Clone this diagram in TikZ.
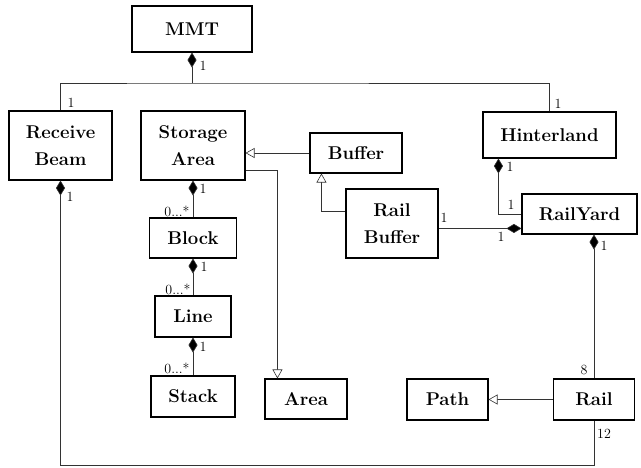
\documentclass[tikz,border=0pt]{standalone}
\usetikzlibrary{arrows.meta,calc}
\begin{document}
\begin{tikzpicture}[x=1pt,y=-1pt,
  cls/.style={draw,line width=1.1pt,rectangle,inner sep=0pt,align=center,
    font=\fontsize{18.5}{27.5}\selectfont\bfseries},
  conn/.style={line width=0.6pt,draw=black!80},
  comp/.style={conn,{Diamond[length=15pt,width=9pt,fill=black]}-},
  gen/.style={conn,-{Triangle[open,length=9pt,width=10pt,fill=white]}},
  lab/.style={font=\fontsize{14}{15}\selectfont,inner sep=0pt}]
\useasboundingbox (0,0) rectangle (641,468);
% classes
\node[cls,minimum width=120pt,minimum height=46pt] (MMT) at (192,29) {MMT};
\node[cls,minimum width=103pt,minimum height=69pt] (RB) at (60.5,145.5) {Receive\\Beam};
\node[cls,minimum width=104pt,minimum height=69pt] (SA) at (193,145.5) {Storage\\Area};
\node[cls,minimum width=92pt,minimum height=40pt] (Buf) at (356,153) {Buffer};
\node[cls,minimum width=133pt,minimum height=46pt] (Hin) at (549.5,135) {Hinterland};
\node[cls,minimum width=115pt,minimum height=40pt] (RY) at (579.5,214) {RailYard};
\node[cls,minimum width=92pt,minimum height=69pt] (RBuf) at (392,223.5) {Rail\\Buffer};
\node[cls,minimum width=87pt,minimum height=40pt] (Blk) at (193,238) {Block};
\node[cls,minimum width=76pt,minimum height=41pt] (Ln) at (193,316.5) {Line};
\node[cls,minimum width=84pt,minimum height=41pt] (Stk) at (193,396.5) {Stack};
\node[cls,minimum width=82pt,minimum height=40pt] (Area) at (306,399) {Area};
\node[cls,minimum width=81pt,minimum height=41pt] (Path) at (447.5,399.5) {Path};
\node[cls,minimum width=81pt,minimum height=41pt] (Rail) at (594,399.5) {Rail};
% helper coordinates
\coordinate (top) at (192,83);
\coordinate (hd) at ($(Hin.south west)+(16,0)$);
\coordinate (ryd) at (Rail.north |- RY.south);
\coordinate (saE) at ($(SA.south east)+(0,-10)$);
\coordinate (aN) at ($(Area.north west)+(13,0)$);
\coordinate (bufB) at ($(Buf.south west)+(12,0)$);
\coordinate (rbW) at ($(RBuf.north west)+(0,23)$);
\coordinate (rbE) at ($(RBuf.north east)+(0,40)$);
\coordinate (bot) at (594,465);
% connectors
\draw[comp] (MMT.south) -- (top);
\draw[conn] (RB.north) |- (top) -| (Hin.north);
\draw[gen] (Buf.west) -- (Buf.west -| SA.east);
\draw[gen] (saE) -| (aN);
\draw[gen] (rbW) -| (bufB);
\draw[comp] (rbE -| RY.west) -- (rbE);
\draw[comp] (hd) |- (RY.west);
\draw[comp] (ryd) -- (Rail.north);
\draw[gen] (Rail.west) -- (Path.east);
\draw[comp] (RB.south) |- (bot) -- (Rail.south);
\draw[comp] (SA.south) -- (Blk.north);
\draw[comp] (Blk.south) -- (Ln.north);
\draw[comp] (Ln.south) -- (Stk.north);
% multiplicities
\node[lab] (l1) at (203,66) {1};
\node[lab] (l2) at (71,103) {1};
\node[lab] (l3) at (558,104) {1};
\node[lab] (l4) at (70,197) {1};
\node[lab] (l5) at (203,189) {1};
\node[lab] (l6) at (177,211) {0...*};
\node[lab] (l7) at (204,267) {1};
\node[lab] (l8) at (178,289) {0...*};
\node[lab] (l9) at (203,347) {1};
\node[lab] (l10) at (177,368) {0...*};
\node[lab] (l11) at (510,167) {1};
\node[lab] (l12) at (511,205) {1};
\node[lab] (l13) at (444,218) {1};
\node[lab] (l14) at (501,237) {1};
\node[lab] (l15) at (604,246) {1};
\node[lab] (l16) at (584,370) {8};
\node[lab] (l17) at (604,434) {12};
\end{tikzpicture}
\end{document}
